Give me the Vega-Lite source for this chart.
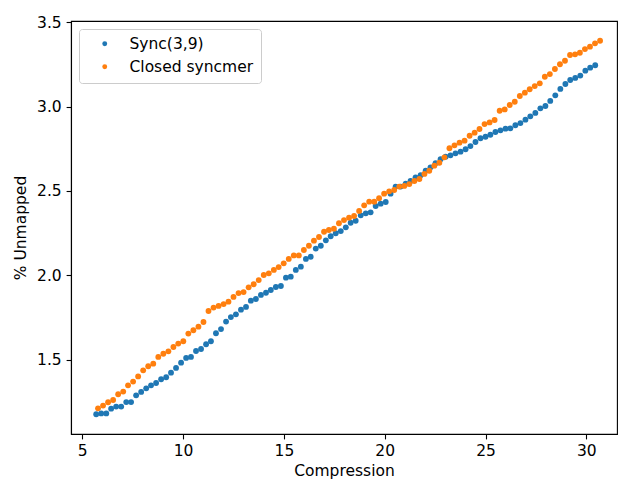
{
  "$schema": "https://vega.github.io/schema/vega-lite/v6.json",
  "autosize": "none",
  "width": 546,
  "height": 413,
  "padding": {"left": 71, "top": 21, "right": 2, "bottom": 47},
  "background": "white",
  "data": {"values": [
    {"s":"Sync(3,9)","x":5.69,"y":1.179},{"s":"Sync(3,9)","x":5.94,"y":1.184},{"s":"Sync(3,9)","x":6.19,"y":1.184},{"s":"Sync(3,9)","x":6.43,"y":1.212},{"s":"Sync(3,9)","x":6.68,"y":1.224},
    {"s":"Sync(3,9)","x":6.93,"y":1.224},{"s":"Sync(3,9)","x":7.18,"y":1.251},{"s":"Sync(3,9)","x":7.42,"y":1.251},{"s":"Sync(3,9)","x":7.67,"y":1.291},{"s":"Sync(3,9)","x":7.92,"y":1.311},
    {"s":"Sync(3,9)","x":8.17,"y":1.332},{"s":"Sync(3,9)","x":8.41,"y":1.350},{"s":"Sync(3,9)","x":8.66,"y":1.364},{"s":"Sync(3,9)","x":8.91,"y":1.386},{"s":"Sync(3,9)","x":9.16,"y":1.398},
    {"s":"Sync(3,9)","x":9.40,"y":1.425},{"s":"Sync(3,9)","x":9.65,"y":1.453},{"s":"Sync(3,9)","x":9.90,"y":1.484},{"s":"Sync(3,9)","x":10.15,"y":1.512},{"s":"Sync(3,9)","x":10.39,"y":1.518},
    {"s":"Sync(3,9)","x":10.64,"y":1.553},{"s":"Sync(3,9)","x":10.89,"y":1.565},{"s":"Sync(3,9)","x":11.14,"y":1.593},{"s":"Sync(3,9)","x":11.38,"y":1.611},{"s":"Sync(3,9)","x":11.63,"y":1.658},
    {"s":"Sync(3,9)","x":11.88,"y":1.683},{"s":"Sync(3,9)","x":12.13,"y":1.727},{"s":"Sync(3,9)","x":12.37,"y":1.754},{"s":"Sync(3,9)","x":12.62,"y":1.770},{"s":"Sync(3,9)","x":12.87,"y":1.798},
    {"s":"Sync(3,9)","x":13.12,"y":1.814},{"s":"Sync(3,9)","x":13.36,"y":1.851},{"s":"Sync(3,9)","x":13.61,"y":1.861},{"s":"Sync(3,9)","x":13.86,"y":1.885},{"s":"Sync(3,9)","x":14.11,"y":1.898},
    {"s":"Sync(3,9)","x":14.35,"y":1.914},{"s":"Sync(3,9)","x":14.60,"y":1.932},{"s":"Sync(3,9)","x":14.85,"y":1.938},{"s":"Sync(3,9)","x":15.10,"y":1.987},{"s":"Sync(3,9)","x":15.34,"y":1.993},
    {"s":"Sync(3,9)","x":15.59,"y":2.033},{"s":"Sync(3,9)","x":15.84,"y":2.052},{"s":"Sync(3,9)","x":16.09,"y":2.098},{"s":"Sync(3,9)","x":16.33,"y":2.111},{"s":"Sync(3,9)","x":16.58,"y":2.159},
    {"s":"Sync(3,9)","x":16.83,"y":2.176},{"s":"Sync(3,9)","x":17.08,"y":2.208},{"s":"Sync(3,9)","x":17.32,"y":2.232},{"s":"Sync(3,9)","x":17.57,"y":2.250},{"s":"Sync(3,9)","x":17.82,"y":2.263},
    {"s":"Sync(3,9)","x":18.07,"y":2.285},{"s":"Sync(3,9)","x":18.31,"y":2.312},{"s":"Sync(3,9)","x":18.56,"y":2.324},{"s":"Sync(3,9)","x":18.81,"y":2.356},{"s":"Sync(3,9)","x":19.06,"y":2.368},
    {"s":"Sync(3,9)","x":19.30,"y":2.374},{"s":"Sync(3,9)","x":19.55,"y":2.411},{"s":"Sync(3,9)","x":19.80,"y":2.425},{"s":"Sync(3,9)","x":20.05,"y":2.435},{"s":"Sync(3,9)","x":20.29,"y":2.484},
    {"s":"Sync(3,9)","x":20.54,"y":2.526},{"s":"Sync(3,9)","x":20.79,"y":2.526},{"s":"Sync(3,9)","x":21.04,"y":2.543},{"s":"Sync(3,9)","x":21.28,"y":2.559},{"s":"Sync(3,9)","x":21.53,"y":2.581},
    {"s":"Sync(3,9)","x":21.78,"y":2.593},{"s":"Sync(3,9)","x":22.03,"y":2.620},{"s":"Sync(3,9)","x":22.27,"y":2.640},{"s":"Sync(3,9)","x":22.52,"y":2.664},{"s":"Sync(3,9)","x":22.77,"y":2.688},
    {"s":"Sync(3,9)","x":23.02,"y":2.703},{"s":"Sync(3,9)","x":23.26,"y":2.711},{"s":"Sync(3,9)","x":23.51,"y":2.723},{"s":"Sync(3,9)","x":23.76,"y":2.733},{"s":"Sync(3,9)","x":24.01,"y":2.747},
    {"s":"Sync(3,9)","x":24.25,"y":2.766},{"s":"Sync(3,9)","x":24.50,"y":2.790},{"s":"Sync(3,9)","x":24.75,"y":2.812},{"s":"Sync(3,9)","x":25.00,"y":2.821},{"s":"Sync(3,9)","x":25.24,"y":2.833},
    {"s":"Sync(3,9)","x":25.49,"y":2.849},{"s":"Sync(3,9)","x":25.74,"y":2.859},{"s":"Sync(3,9)","x":25.99,"y":2.869},{"s":"Sync(3,9)","x":26.23,"y":2.871},{"s":"Sync(3,9)","x":26.48,"y":2.889},
    {"s":"Sync(3,9)","x":26.73,"y":2.902},{"s":"Sync(3,9)","x":26.98,"y":2.922},{"s":"Sync(3,9)","x":27.22,"y":2.942},{"s":"Sync(3,9)","x":27.47,"y":2.962},{"s":"Sync(3,9)","x":27.72,"y":2.989},
    {"s":"Sync(3,9)","x":27.97,"y":3.003},{"s":"Sync(3,9)","x":28.21,"y":3.033},{"s":"Sync(3,9)","x":28.46,"y":3.066},{"s":"Sync(3,9)","x":28.71,"y":3.104},{"s":"Sync(3,9)","x":28.96,"y":3.133},
    {"s":"Sync(3,9)","x":29.20,"y":3.157},{"s":"Sync(3,9)","x":29.45,"y":3.169},{"s":"Sync(3,9)","x":29.70,"y":3.183},{"s":"Sync(3,9)","x":29.95,"y":3.212},{"s":"Sync(3,9)","x":30.19,"y":3.230},
    {"s":"Sync(3,9)","x":30.44,"y":3.244},
    {"s":"Closed syncmer","x":5.78,"y":1.214},{"s":"Closed syncmer","x":6.03,"y":1.230},{"s":"Closed syncmer","x":6.28,"y":1.250},{"s":"Closed syncmer","x":6.53,"y":1.263},{"s":"Closed syncmer","x":6.78,"y":1.297},
    {"s":"Closed syncmer","x":7.03,"y":1.313},{"s":"Closed syncmer","x":7.27,"y":1.350},{"s":"Closed syncmer","x":7.52,"y":1.372},{"s":"Closed syncmer","x":7.77,"y":1.403},{"s":"Closed syncmer","x":8.02,"y":1.439},
    {"s":"Closed syncmer","x":8.27,"y":1.463},{"s":"Closed syncmer","x":8.52,"y":1.478},{"s":"Closed syncmer","x":8.77,"y":1.518},{"s":"Closed syncmer","x":9.02,"y":1.537},{"s":"Closed syncmer","x":9.27,"y":1.551},
    {"s":"Closed syncmer","x":9.52,"y":1.577},{"s":"Closed syncmer","x":9.76,"y":1.597},{"s":"Closed syncmer","x":10.01,"y":1.611},{"s":"Closed syncmer","x":10.26,"y":1.656},{"s":"Closed syncmer","x":10.51,"y":1.676},
    {"s":"Closed syncmer","x":10.76,"y":1.697},{"s":"Closed syncmer","x":11.01,"y":1.725},{"s":"Closed syncmer","x":11.26,"y":1.790},{"s":"Closed syncmer","x":11.51,"y":1.810},{"s":"Closed syncmer","x":11.76,"y":1.820},
    {"s":"Closed syncmer","x":12.01,"y":1.831},{"s":"Closed syncmer","x":12.25,"y":1.845},{"s":"Closed syncmer","x":12.50,"y":1.873},{"s":"Closed syncmer","x":12.75,"y":1.896},{"s":"Closed syncmer","x":13.00,"y":1.902},
    {"s":"Closed syncmer","x":13.25,"y":1.930},{"s":"Closed syncmer","x":13.50,"y":1.948},{"s":"Closed syncmer","x":13.75,"y":1.973},{"s":"Closed syncmer","x":14.00,"y":2.003},{"s":"Closed syncmer","x":14.25,"y":2.013},
    {"s":"Closed syncmer","x":14.50,"y":2.033},{"s":"Closed syncmer","x":14.74,"y":2.050},{"s":"Closed syncmer","x":14.99,"y":2.072},{"s":"Closed syncmer","x":15.24,"y":2.098},{"s":"Closed syncmer","x":15.49,"y":2.119},
    {"s":"Closed syncmer","x":15.74,"y":2.119},{"s":"Closed syncmer","x":15.99,"y":2.151},{"s":"Closed syncmer","x":16.24,"y":2.176},{"s":"Closed syncmer","x":16.49,"y":2.206},{"s":"Closed syncmer","x":16.74,"y":2.228},
    {"s":"Closed syncmer","x":16.99,"y":2.259},{"s":"Closed syncmer","x":17.23,"y":2.269},{"s":"Closed syncmer","x":17.48,"y":2.277},{"s":"Closed syncmer","x":17.73,"y":2.309},{"s":"Closed syncmer","x":17.98,"y":2.328},
    {"s":"Closed syncmer","x":18.23,"y":2.342},{"s":"Closed syncmer","x":18.48,"y":2.352},{"s":"Closed syncmer","x":18.73,"y":2.382},{"s":"Closed syncmer","x":18.98,"y":2.415},{"s":"Closed syncmer","x":19.23,"y":2.437},
    {"s":"Closed syncmer","x":19.48,"y":2.437},{"s":"Closed syncmer","x":19.72,"y":2.457},{"s":"Closed syncmer","x":19.97,"y":2.484},{"s":"Closed syncmer","x":20.22,"y":2.498},{"s":"Closed syncmer","x":20.47,"y":2.506},
    {"s":"Closed syncmer","x":20.72,"y":2.526},{"s":"Closed syncmer","x":20.97,"y":2.530},{"s":"Closed syncmer","x":21.22,"y":2.541},{"s":"Closed syncmer","x":21.47,"y":2.559},{"s":"Closed syncmer","x":21.72,"y":2.571},
    {"s":"Closed syncmer","x":21.97,"y":2.601},{"s":"Closed syncmer","x":22.21,"y":2.620},{"s":"Closed syncmer","x":22.46,"y":2.650},{"s":"Closed syncmer","x":22.71,"y":2.667},{"s":"Closed syncmer","x":22.96,"y":2.699},
    {"s":"Closed syncmer","x":23.21,"y":2.753},{"s":"Closed syncmer","x":23.46,"y":2.770},{"s":"Closed syncmer","x":23.71,"y":2.786},{"s":"Closed syncmer","x":23.96,"y":2.798},{"s":"Closed syncmer","x":24.21,"y":2.827},
    {"s":"Closed syncmer","x":24.46,"y":2.845},{"s":"Closed syncmer","x":24.70,"y":2.867},{"s":"Closed syncmer","x":24.95,"y":2.896},{"s":"Closed syncmer","x":25.20,"y":2.906},{"s":"Closed syncmer","x":25.45,"y":2.920},
    {"s":"Closed syncmer","x":25.70,"y":2.975},{"s":"Closed syncmer","x":25.95,"y":2.983},{"s":"Closed syncmer","x":26.20,"y":3.009},{"s":"Closed syncmer","x":26.45,"y":3.028},{"s":"Closed syncmer","x":26.70,"y":3.062},
    {"s":"Closed syncmer","x":26.95,"y":3.082},{"s":"Closed syncmer","x":27.19,"y":3.102},{"s":"Closed syncmer","x":27.44,"y":3.121},{"s":"Closed syncmer","x":27.69,"y":3.137},{"s":"Closed syncmer","x":27.94,"y":3.176},
    {"s":"Closed syncmer","x":28.19,"y":3.192},{"s":"Closed syncmer","x":28.44,"y":3.222},{"s":"Closed syncmer","x":28.69,"y":3.250},{"s":"Closed syncmer","x":28.94,"y":3.271},{"s":"Closed syncmer","x":29.19,"y":3.305},
    {"s":"Closed syncmer","x":29.44,"y":3.309},{"s":"Closed syncmer","x":29.68,"y":3.318},{"s":"Closed syncmer","x":29.93,"y":3.340},{"s":"Closed syncmer","x":30.18,"y":3.354},{"s":"Closed syncmer","x":30.43,"y":3.374},
    {"s":"Closed syncmer","x":30.68,"y":3.389}
  ]},
  "mark": {"type": "point", "filled": true, "opacity": 1, "size": 34, "shape": "circle"},
  "encoding": {
    "x": {
      "field": "x", "type": "quantitative", "title": "Compression",
      "scale": {"domain": [4.44, 31.52], "nice": false, "zero": false},
      "axis": {"values": [5, 10, 15, 20, 25, 30], "format": "d", "titlePadding": 4}
    },
    "y": {
      "field": "y", "type": "quantitative", "title": "% Unmapped",
      "scale": {"domain": [1.062, 3.506], "nice": false, "zero": false},
      "axis": {"values": [1.5, 2.0, 2.5, 3.0, 3.5], "format": ".1f", "titlePadding": 8}
    },
    "color": {
      "field": "s", "type": "nominal",
      "scale": {"domain": ["Sync(3,9)", "Closed syncmer"], "range": ["#1f77b4", "#ff7f0e"]},
      "legend": {
        "title": null, "orient": "top-left", "offset": 8,
        "fillColor": "white", "strokeColor": "#cccccc", "cornerRadius": 3,
        "padding": 7, "symbolOffset": 11, "symbolSize": 24, "symbolType": "circle",
        "labelOffset": 17, "rowPadding": 6, "labelFontSize": 15.5, "labelFont": "DejaVu Sans", "labelColor": "black"
      }
    }
  },
  "config": {
    "view": {"stroke": "black", "strokeWidth": 1.1},
    "axis": {
      "grid": false, "domainColor": "black", "domainWidth": 1.1,
      "tickColor": "black", "tickWidth": 1.1, "tickSize": 4.9, "labelPadding": 4.9,
      "labelFont": "DejaVu Sans", "labelFontSize": 15.5, "labelColor": "black",
      "titleFont": "DejaVu Sans", "titleFontSize": 15.5, "titleFontWeight": "normal", "titleColor": "black"
    }
  }
}
